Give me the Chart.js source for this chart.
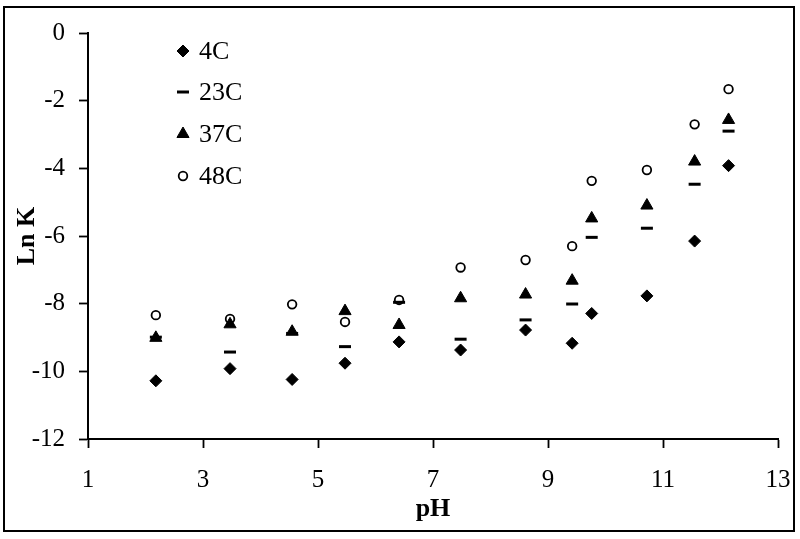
<!DOCTYPE html>
<html lang="en">

<head>
    <meta charset="UTF-8">
    <title>Ln K vs pH</title>
    <style>
        body {
            margin: 0;
            background: #fff;
        }

        #wrap {
            position: relative;
            width: 800px;
            height: 539px;
        }

        #frame {
            position: absolute;
            left: 3px;
            top: 6px;
            width: 788px;
            height: 522px;
            border: 2px solid #000;
            pointer-events: none;
        }
    </style>
    <script src="https://cdn.jsdelivr.net/npm/chart.js"></script>
</head>

<body>
    <div id="wrap">
        <canvas id="chart" width="800" height="539"></canvas>
        <div id="frame"></div>
    </div>

    <script>
        // values
        const pH = [2.18, 3.47, 4.55, 5.47, 6.41, 7.48, 8.61, 9.42, 9.76, 10.72, 11.55, 12.14];
        const lnK4C = [-10.28, -9.92, -10.24, -9.76, -9.13, -9.37, -8.78, -9.17, -8.29, -7.77, -6.15, -3.92];
        const lnK23C = [-8.99, -9.43, -8.88, -9.27, -7.96, -9.05, -8.48, -8.01, -6.04, -5.77, -4.47, -2.90];
        const lnK37C = [-9.01, -8.61, -8.83, -8.22, -8.63, -7.84, -7.73, -7.32, -5.48, -5.10, -3.80, -2.57];
        const lnK48C = [-8.34, -8.45, -8.02, -8.54, -7.89, -6.93, -6.71, -6.30, -4.37, -4.05, -2.70, -1.66];

        const xTicks = [1, 3, 5, 7, 9, 11, 13];
        const yTicks = [0, -2, -4, -6, -8, -10, -12];

        const serif = '"Liberation Serif", "Times New Roman", serif';

        function points(ys) {
            return pH.map((x, i) => ({ x: x, y: ys[i] }));
        }

        // legend drawn inside the plot, stacked vertically
        const innerLegend = {
            id: 'innerLegend',
            afterDraw(chart) {
                const ctx = chart.ctx;
                ctx.save();
                ctx.font = '26px ' + serif;
                ctx.textBaseline = 'middle';
                ctx.textAlign = 'left';
                const rows = [51, 92, 134, 176];
                chart.data.datasets.forEach((ds, i) => {
                    const y = rows[i];
                    ctx.fillStyle = ds.backgroundColor;
                    ctx.strokeStyle = ds.borderColor;
                    ctx.lineWidth = ds.borderWidth;
                    Chart.helpers.drawPoint(ctx, {
                        pointStyle: ds.pointStyle,
                        radius: ds.pointRadius,
                        borderWidth: ds.borderWidth
                    }, 183, y);
                    ctx.fillStyle = '#000';
                    ctx.fillText(ds.label, 199, y + 1);
                });
                ctx.restore();
            }
        };

        const ctx = document.getElementById('chart').getContext('2d');

        new Chart(ctx, {
            type: 'scatter',
            data: {
                datasets: [
                    {
                        label: '4C',
                        data: points(lnK4C),
                        pointStyle: 'rectRot',
                        pointRadius: 6,
                        backgroundColor: '#000',
                        borderColor: '#000',
                        borderWidth: 1
                    },
                    {
                        label: '23C',
                        data: points(lnK23C),
                        pointStyle: 'line',
                        pointRadius: 6,
                        backgroundColor: '#000',
                        borderColor: '#000',
                        borderWidth: 3
                    },
                    {
                        label: '37C',
                        data: points(lnK37C),
                        pointStyle: 'triangle',
                        pointRadius: 7,
                        backgroundColor: '#000',
                        borderColor: '#000',
                        borderWidth: 1
                    },
                    {
                        label: '48C',
                        data: points(lnK48C),
                        pointStyle: 'circle',
                        pointRadius: 4.3,
                        backgroundColor: '#fff',
                        borderColor: '#000',
                        borderWidth: 1.8
                    }
                ]
            },
            options: {
                responsive: false,
                animation: false,
                events: [],
                layout: {
                    padding: { left: 0, right: 22, top: 33, bottom: 0 }
                },
                plugins: {
                    legend: { display: false },
                    tooltip: { enabled: false }
                },
                scales: {
                    x: {
                        type: 'linear',
                        min: 1,
                        max: 13,
                        afterBuildTicks: s => { s.ticks = xTicks.map(v => ({ value: v })); },
                        afterFit: s => {
                            s.height = 100;
                            s.paddingLeft = 0;
                            s.paddingRight = 0;
                        },
                        grid: {
                            drawOnChartArea: false,
                            drawTicks: true,
                            tickLength: 9,
                            tickColor: '#000',
                            tickWidth: 1.8
                        },
                        border: { display: true, color: '#000', width: 2 },
                        ticks: {
                            color: '#000',
                            padding: 17,
                            maxRotation: 0,
                            font: { family: serif, size: 25 }
                        },
                        title: {
                            display: true,
                            text: 'pH',
                            color: '#000',
                            padding: { top: 0, bottom: 14 },
                            font: { family: serif, size: 26, weight: 'bold' }
                        }
                    },
                    y: {
                        type: 'linear',
                        min: -12,
                        max: 0,
                        afterBuildTicks: s => { s.ticks = yTicks.map(v => ({ value: v })); },
                        afterFit: s => { s.width = 88; },
                        grid: {
                            drawOnChartArea: false,
                            drawTicks: true,
                            tickLength: 9,
                            tickColor: '#000',
                            tickWidth: 1.8
                        },
                        border: { display: true, color: '#000', width: 2 },
                        ticks: {
                            color: '#000',
                            padding: 14,
                            font: { family: serif, size: 25 }
                        },
                        title: {
                            display: true,
                            text: 'Ln K',
                            color: '#000',
                            padding: { top: 12, bottom: 0 },
                            font: { family: serif, size: 26, weight: 'bold' }
                        }
                    }
                }
            },
            plugins: [innerLegend]
        });
    </script>
</body>

</html>
